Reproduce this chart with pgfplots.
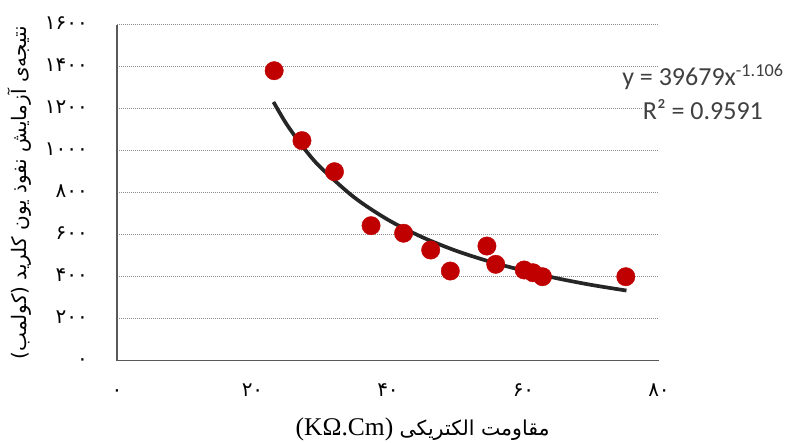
\documentclass[border=0pt]{standalone}
\usepackage{fontspec}
\setmainfont{Liberation Serif}
\newfontfamily\persianfont[Script=Arabic]{DejaVu Sans}
\newfontfamily\eqfont{Carlito}
\TeXXeTstate=1
\usepackage{pgfplots}
\usepackage{pgfplotstable}
\pgfplotsset{compat=1.18}
\definecolor{ptred}{HTML}{C00000}
\definecolor{fitblack}{HTML}{262626}
\definecolor{axgray}{HTML}{595959}
\definecolor{gridgray}{HTML}{8C8C8C}
\definecolor{eqgray}{HTML}{404040}

% measured points: resistivity (kOhm.cm) vs RCPT charge (coulomb)
\pgfplotstableread{
x y
23.2 1381
27.3 1048
32.1 900
37.5 643
42.3 607
46.3 527
49.2 427
54.6 546
55.9 459
60.1 432
61.4 419
62.8 400
75.1 400
}\chloride

% power trendline y = 39679 x^-1.106, read off at a few x
\pgfplotstableread{
x y
23.1 1232
25 1128
27.5 1016
30 922
35 778
40 671
45 589
50 524
55 472
60 429
65 392
70 361
75.2 334
}\fitline

\begin{document}
\begin{tikzpicture}
\useasboundingbox (0,0) rectangle (787pt,442pt);
\begin{axis}[
  at={(117pt,81.3pt)}, anchor=south west,
  scale only axis, width=542pt, height=336pt,
  xmin=0, xmax=80, ymin=0, ymax=1600,
  axis x line=bottom, axis y line=left,
  axis line style={-, draw=axgray, line width=1.5pt},
  xtick={0,20,40,60,80},
  xticklabels={۰,۲۰,۴۰,۶۰,۸۰},
  ytick={0,200,...,1600},
  yticklabels={۰,۲۰۰,۴۰۰,۶۰۰,۸۰۰,۱۰۰۰,۱۲۰۰,۱۴۰۰,۱۶۰۰},
  major tick length=0pt,
  xticklabel style={font=\persianfont\fontsize{20}{22}\selectfont,
    anchor=base, yshift=-36pt, inner sep=0pt},
  yticklabel style={font=\persianfont\fontsize{20}{22}\selectfont,
    anchor=base east, xshift=-29pt, yshift=-4.5pt, inner sep=0pt},
  ymajorgrids,
  grid style={draw=gridgray, line width=0.9pt, dash pattern=on 1pt off 1pt},
  xlabel={{\fontsize{25.5}{28}\selectfont (KΩ.Cm) }{\persianfont\fontsize{20.5}{24}\selectfont\beginR مقاومت الکتریکی\endR}},
  xlabel style={at={(axis description cs:0.564,-0.224)}, anchor=base, inner sep=0pt},
  ylabel={\persianfont\fontsize{20}{22}\selectfont\beginR نتیجه‌ی آزمایش نفوذ یون کلرید (کولمب)\endR},
  ylabel style={at={(axis description cs:-0.179,0.5)}, anchor=center, inner sep=0pt},
  clip=false,
]
\addplot[only marks, mark=*, mark size=9.2pt,
  mark options={fill=ptred, draw=ptred}] table {\chloride};
\addplot[fitblack, line width=3.7pt, smooth, no marks] table {\fitline};
\node[font=\eqfont\fontsize{26}{30}\selectfont, anchor=base, inner sep=0pt,
  text=eqgray] at (rel axis cs:1.081,0.8176) {y = 39679x\textsuperscript{-1.106}};
\node[font=\eqfont\fontsize{26}{30}\selectfont, anchor=base, inner sep=0pt,
  text=eqgray, fill=white] at (rel axis cs:1.081,0.7185) {R² = 0.9591};
\end{axis}
\end{tikzpicture}
\end{document}
